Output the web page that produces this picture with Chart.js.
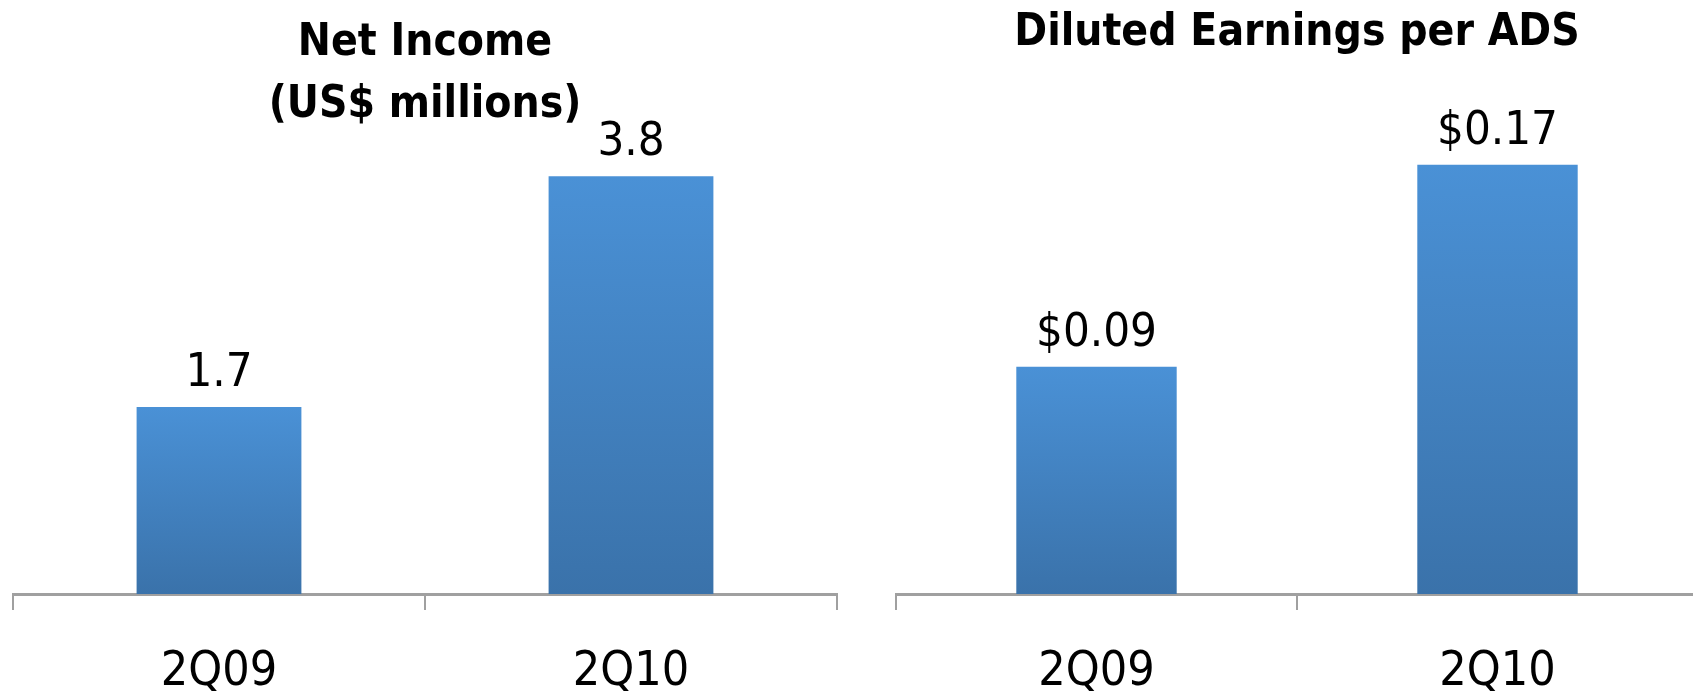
<!DOCTYPE html>
<html>
<head>
<meta charset="utf-8">
<script src="https://cdn.jsdelivr.net/npm/chart.js@4.4.0/dist/chart.umd.min.js"></script>
<style>
  html, body { margin: 0; padding: 0; background: #fff; }
  body { width: 1693px; height: 694px; position: relative; overflow: hidden; }
  .box { position: absolute; top: 0; width: 850px; height: 694px; }
  #leftBox { left: 0; }
  #rightBox { left: 850px; }
</style>
</head>
<body>
<div class="box" id="leftBox"><canvas id="incomeChart" width="850" height="694"></canvas></div>
<div class="box" id="rightBox"><canvas id="epsChart" width="850" height="694"></canvas></div>
<script>
const quarters = ["2Q09", "2Q10"];
const netIncome = [1.7, 3.8];
const dilutedEps = [0.09, 0.17];
const incomeTitle = ["Net Income", "(US$ millions)"];
const epsTitle = "Diluted Earnings per ADS";

const FONT = "'DejaVu Sans Condensed', 'DejaVu Sans', sans-serif";

// lighter at the top of each bar, darker at the base
function barGradient(ctx) {
    const chart = ctx.chart;
    if (!chart.chartArea || ctx.parsed === undefined) return "#4a8fd4";
    const y = chart.scales.y;
    const top = y.getPixelForValue(ctx.parsed.y);
    const bottom = y.getPixelForValue(0);
    const g = chart.ctx.createLinearGradient(0, top, 0, bottom);
    g.addColorStop(0, "#4a91d6");
    g.addColorStop(1, "#3a72aa");
    return g;
}

const barValues = {
    id: "barValues",
    afterDatasetsDraw(chart, args, opts) {
        const ctx = chart.ctx;
        const meta = chart.getDatasetMeta(0);
        const data = chart.data.datasets[0].data;
        ctx.save();
        ctx.font = "47px " + FONT;
        ctx.fillStyle = "#000";
        ctx.textAlign = "center";
        ctx.textBaseline = "alphabetic";
        meta.data.forEach((bar, i) => {
            ctx.fillText(opts.format(data[i]), bar.x, bar.y - 21);
        });
        ctx.restore();
    }
};

function makeChart(id, values, title, yMax, pad, titlePad, fmt) {
    return new Chart(document.getElementById(id), {
        type: "bar",
        data: {
            labels: quarters,
            datasets: [{
                data: values,
                backgroundColor: barGradient,
                borderWidth: 0,
                barPercentage: 1,
                categoryPercentage: 0.4
            }]
        },
        options: {
            responsive: false,
            animation: false,
            devicePixelRatio: 1,
            layout: { padding: pad },
            plugins: {
                legend: { display: false },
                tooltip: { enabled: false },
                title: {
                    display: true,
                    text: title,
                    fullSize: false,
                    color: "#000",
                    font: { family: FONT, size: 44, weight: "bold", lineHeight: 1.4 },
                    padding: titlePad
                },
                barValues: { format: fmt }
            },
            scales: {
                x: {
                    offset: true,
                    grid: {
                        offset: true,
                        drawOnChartArea: false,
                        drawTicks: true,
                        tickLength: 16,
                        color: "#a0a0a0",
                        lineWidth: 2
                    },
                    border: { display: true, color: "#a0a0a0", width: 3 },
                    ticks: {
                        color: "#000",
                        font: { family: FONT, size: 48 },
                        padding: 34,
                        maxRotation: 0
                    },
                    afterFit: s => { s.height = 100; }
                },
                y: {
                    display: false,
                    min: 0,
                    max: yMax
                }
            }
        },
        plugins: [barValues]
    });
}

makeChart("incomeChart", netIncome, incomeTitle, 4.0,
    { left: 13, right: 13, top: 0, bottom: 0 },
    { top: 13, bottom: 18 },
    v => v.toFixed(1));

makeChart("epsChart", dilutedEps, epsTitle, 0.18,
    { left: 46, right: 2, top: 0, bottom: 0 },
    { top: 3, bottom: 75 },
    v => "$" + v.toFixed(2));
</script>
</body>
</html>
